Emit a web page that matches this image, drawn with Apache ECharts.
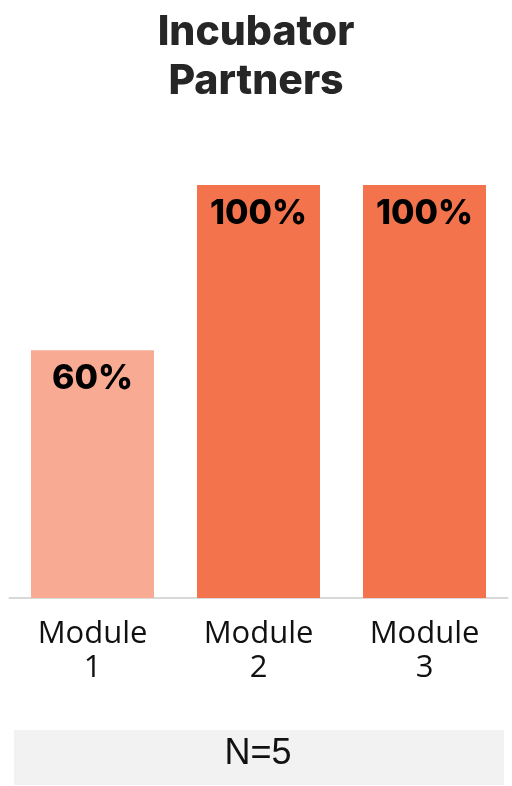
<!DOCTYPE html>
<html><head><meta charset="utf-8">
<script src="https://cdn.jsdelivr.net/npm/echarts@6/dist/echarts.min.js"></script>
<style>html,body{margin:0;padding:0;background:#fff}#c{width:512px;height:786px}</style>
</head><body><div id="c"></div>
<script>
const categories = ['Module\n1', 'Module\n2', 'Module\n3'];
const values = [60, 100, 100];
const barColors = ['#F8AA93', '#F2734C', '#F2734C'];
const titleText = 'Incubator\nPartners';
const noteText = 'N=5';

const chart = echarts.init(document.getElementById('c'));
chart.setOption({
  animation: false,
  title: {
    text: titleText, left: 'center', top: 3,
    textStyle: { fontFamily: 'Inter', fontWeight: 800, fontSize: 41, lineHeight: 49, color: '#262626' }
  },
  grid: { left: 9.5, right: 4.5, top: 185, bottom: 188, containLabel: false },
  xAxis: {
    type: 'category', data: categories,
    axisLine: { lineStyle: { color: '#D9D9D9', width: 2 } },
    axisTick: { show: false },
    axisLabel: { fontFamily: 'Open Sans', fontSize: 31, lineHeight: 34, color: '#111', margin: 19 }
  },
  yAxis: { type: 'value', min: 0, max: 100, show: false, splitLine: { show: false } },
  series: [{
    type: 'bar', barWidth: 123,
    data: values.map((v, i) => ({ value: v, itemStyle: { color: barColors[i] } })),
    label: {
      show: true, position: 'insideTop', distance: 12,
      formatter: '{c}%', fontFamily: 'Inter', fontWeight: 800, fontSize: 34, color: '#000'
    }
  }],
  graphic: [
    { type: 'rect', shape: { x: 14, y: 730, width: 490, height: 55 }, style: { fill: '#F2F2F2' } },
    { type: 'text', x: 258, y: 754, style: { text: noteText, fontFamily: 'Liberation Sans', fontSize: 36, fill: '#111', textAlign: 'center', textVerticalAlign: 'middle' } }
  ]
});
</script></body></html>
